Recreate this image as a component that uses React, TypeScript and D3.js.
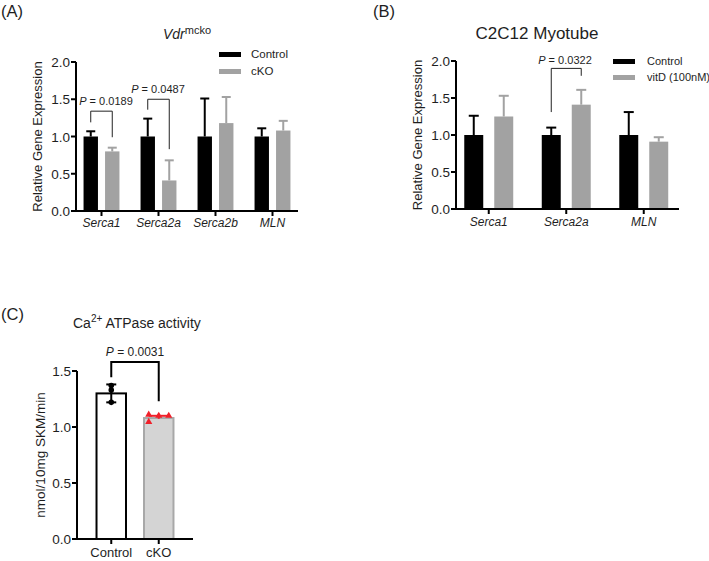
import React from "react";
import * as d3 from "d3";

// Panel A data
const aCategories = ["Serca1", "Serca2a", "Serca2b", "MLN"];
const aSeries = ["Control", "cKO"];
const aControlMean = [1.0, 1.0, 1.0, 1.0];
const aControlErr = [0.07, 0.24, 0.51, 0.11];
const aCkoMean = [0.8, 0.41, 1.18, 1.08];
const aCkoErr = [0.05, 0.27, 0.35, 0.13];
const aTicks = [0, 0.5, 1.0, 1.5, 2.0];

// Panel B data
const bCategories = ["Serca1", "Serca2a", "MLN"];
const bSeries = ["Control", "vitD (100nM)"];
const bControlMean = [1.0, 1.0, 1.0];
const bControlErr = [0.26, 0.1, 0.31];
const bVitdMean = [1.25, 1.41, 0.91];
const bVitdErr = [0.28, 0.2, 0.06];
const bTicks = [0, 0.5, 1.0, 1.5, 2.0];

// Panel C data
const cCategories = ["Control", "cKO"];
const cMeans = [1.3, 1.08];
const cErr = [0.08, 0.02];
const cControlPoints = [1.37, 1.33, 1.22];
const cCkoPoints = [1.11, 1.045, 1.1, 1.1];
const cCkoOffsets = [-10, -10, 0, 10];
const cTicks = [0, 0.5, 1.0, 1.5];

const FONT = "Liberation Sans, Arial, Helvetica, sans-serif";
const GRAY = "#a2a2a2";
const TXT = "#1e1e1e";

function Bracket({ x1, x2, yTop, yL, yR }: any) {
  return (
    <path
      d={`M${x1},${yL}V${yTop}H${x2}V${yR}`}
      fill="none"
      stroke="#222"
      strokeWidth={1}
    />
  );
}

function PText({ x, y, value, size = 11 }: any) {
  return (
    <text x={x} y={y} textAnchor="middle" fontSize={size} fill={TXT}>
      <tspan fontStyle="italic">P</tspan>
      <tspan> = {value}</tspan>
    </text>
  );
}

function YAxis({ y, ticks, x, top, bottom, fmt }: any) {
  return (
    <g>
      <line x1={x} x2={x} y1={top} y2={bottom} stroke="#000" strokeWidth={2} />
      {ticks.map((t: number) => (
        <g key={t}>
          <line x1={x - 5} x2={x} y1={y(t)} y2={y(t)} stroke="#000" strokeWidth={2} />
          <text x={x - 6} y={y(t) + 5} textAnchor="end" fontSize={13.5} fill={TXT}>
            {fmt(t)}
          </text>
        </g>
      ))}
    </g>
  );
}

function PanelA() {
  const x0 = d3.scaleBand().domain(aCategories).range([73, 301]).paddingInner(0.37).paddingOuter(0.185);
  const x1 = d3.scaleBand().domain(aSeries).range([0, x0.bandwidth()]).paddingInner(0.33);
  const y = d3.scaleLinear().domain([0, 2]).range([211, 62]);
  const fmt = d3.format(".1f");
  const series = [
    { key: aSeries[0], mean: aControlMean, err: aControlErr, color: "#000" },
    { key: aSeries[1], mean: aCkoMean, err: aCkoErr, color: GRAY },
  ];
  const cx = (c: string, s: string) => (x0(c) as number) + (x1(s) as number) + x1.bandwidth() / 2;
  return (
    <g>
      <text x={1} y={17} fontSize={16.5} fill={TXT}>(A)</text>
      <text x={163} y={39} fontSize={14} fill={TXT}>
        <tspan fontStyle="italic">Vdr</tspan>
        <tspan fontSize={11} dy={-5}>mcko</tspan>
      </text>
      {series.map((s) =>
        aCategories.map((c, i) => (
          <g key={s.key + c}>
            <line x1={cx(c, s.key)} x2={cx(c, s.key)} y1={y(s.mean[i])} y2={y(s.mean[i] + s.err[i])} stroke={s.color} strokeWidth={2} />
            <line x1={cx(c, s.key) - 4.5} x2={cx(c, s.key) + 4.5} y1={y(s.mean[i] + s.err[i])} y2={y(s.mean[i] + s.err[i])} stroke={s.color} strokeWidth={2} />
            <rect x={(x0(c) as number) + (x1(s.key) as number)} y={y(s.mean[i])} width={x1.bandwidth()} height={y(0) - y(s.mean[i])} fill={s.color} />
          </g>
        ))
      )}
      <YAxis y={y} ticks={aTicks} x={76} top={y(2)} bottom={y(0)} fmt={fmt} />
      <line x1={76} x2={298} y1={y(0)} y2={y(0)} stroke="#000" strokeWidth={2} />
      {aCategories.map((c) => {
        const xc = (x0(c) as number) + x0.bandwidth() / 2;
        return (
          <g key={c}>
            <line x1={xc} x2={xc} y1={y(0)} y2={y(0) + 5} stroke="#000" strokeWidth={2} />
            <text x={xc} y={227} textAnchor="middle" fontSize={12} fontStyle="italic" fill={TXT}>{c}</text>
          </g>
        );
      })}
      <text transform={`translate(42,${(y(0) + y(2)) / 2}) rotate(-90)`} textAnchor="middle" fontSize={13} fill={TXT}>
        Relative Gene Expression
      </text>
      {/* legend */}
      <rect x={219} y={52} width={22} height={5} fill="#000" />
      <rect x={219} y={69} width={22} height={5} fill={GRAY} />
      <text x={251} y={58} fontSize={11.5} fill={TXT}>{aSeries[0]}</text>
      <text x={251} y={75} fontSize={11.5} fill={TXT}>{aSeries[1]}</text>
      {/* brackets */}
      <Bracket x1={cx("Serca1", "Control")} x2={cx("Serca1", "cKO")} yTop={y(1.34)} yL={y(1.19)} yR={y(0.99)} />
      <PText x={106} y={105} value="0.0189" />
      <Bracket x1={cx("Serca2a", "Control")} x2={cx("Serca2a", "cKO")} yTop={y(1.5)} yL={y(1.36)} yR={y(0.83)} />
      <PText x={158} y={93} value="0.0487" />
    </g>
  );
}

function PanelB() {
  const x0 = d3.scaleBand().domain(bCategories).range([450, 682.5]).paddingInner(0.368).paddingOuter(0.184);
  const x1 = d3.scaleBand().domain(bSeries).range([0, x0.bandwidth()]).paddingInner(0.367);
  const y = d3.scaleLinear().domain([0, 2]).range([209, 61]);
  const fmt = d3.format(".1f");
  const series = [
    { key: bSeries[0], mean: bControlMean, err: bControlErr, color: "#000" },
    { key: bSeries[1], mean: bVitdMean, err: bVitdErr, color: GRAY },
  ];
  const cx = (c: string, s: string) => (x0(c) as number) + (x1(s) as number) + x1.bandwidth() / 2;
  return (
    <g>
      <text x={373} y={17} fontSize={16.5} fill={TXT}>(B)</text>
      <text x={537} y={39} textAnchor="middle" fontSize={17} fill={TXT}>C2C12 Myotube</text>
      {series.map((s) =>
        bCategories.map((c, i) => (
          <g key={s.key + c}>
            <line x1={cx(c, s.key)} x2={cx(c, s.key)} y1={y(s.mean[i])} y2={y(s.mean[i] + s.err[i])} stroke={s.color} strokeWidth={2} />
            <line x1={cx(c, s.key) - 5} x2={cx(c, s.key) + 5} y1={y(s.mean[i] + s.err[i])} y2={y(s.mean[i] + s.err[i])} stroke={s.color} strokeWidth={2} />
            <rect x={(x0(c) as number) + (x1(s.key) as number)} y={y(s.mean[i])} width={x1.bandwidth()} height={y(0) - y(s.mean[i])} fill={s.color} />
          </g>
        ))
      )}
      <YAxis y={y} ticks={bTicks} x={456} top={y(2)} bottom={y(0)} fmt={fmt} />
      <line x1={456} x2={679} y1={y(0)} y2={y(0)} stroke="#000" strokeWidth={2} />
      {bCategories.map((c) => {
        const xc = (x0(c) as number) + x0.bandwidth() / 2;
        return (
          <g key={c}>
            <line x1={xc} x2={xc} y1={y(0)} y2={y(0) + 5} stroke="#000" strokeWidth={2} />
            <text x={xc} y={226} textAnchor="middle" fontSize={12} fontStyle="italic" fill={TXT}>{c}</text>
          </g>
        );
      })}
      <text transform={`translate(422,${(y(0) + y(2)) / 2}) rotate(-90)`} textAnchor="middle" fontSize={13} fill={TXT}>
        Relative Gene Expression
      </text>
      <rect x={613} y={59} width={22} height={5} fill="#000" />
      <rect x={613} y={75} width={22} height={5} fill={GRAY} />
      <text x={647} y={65} fontSize={11} fill={TXT}>{bSeries[0]}</text>
      <text x={647} y={81} fontSize={11} fill={TXT}>{bSeries[1]}</text>
      <Bracket x1={cx("Serca2a", bSeries[0])} x2={cx("Serca2a", bSeries[1])} yTop={y(1.9)} yL={y(1.31)} yR={y(1.8)} />
      <PText x={565} y={64} value="0.0322" />
    </g>
  );
}

function PanelC() {
  const x = d3.scaleBand().domain(cCategories).range([77, 193]).paddingInner(0.337).paddingOuter(0.39);
  const y = d3.scaleLinear().domain([0, 1.5]).range([539, 371]);
  const fmt = d3.format(".1f");
  const xc = (c: string) => (x(c) as number) + x.bandwidth() / 2;
  const tri = d3.symbol().type(d3.symbolTriangle).size(22)();
  return (
    <g>
      <text x={1} y={320} fontSize={16.5} fill={TXT}>(C)</text>
      <text x={73} y={328} fontSize={14} fill={TXT}>
        Ca<tspan fontSize={10} dy={-6}>2+</tspan>
        <tspan dy={6}> ATPase activity</tspan>
      </text>
      <rect x={(x("Control") as number) + 1} y={y(cMeans[0])} width={x.bandwidth() - 2} height={y(0) - y(cMeans[0])} fill="#fff" stroke="#000" strokeWidth={2} />
      <rect x={(x("cKO") as number) + 1} y={y(cMeans[1])} width={x.bandwidth() - 2} height={y(0) - y(cMeans[1])} fill="#d4d4d4" stroke="#a8a8a8" strokeWidth={2} />
      <g>
        <line x1={xc("Control")} x2={xc("Control")} y1={y(cMeans[0] - cErr[0])} y2={y(cMeans[0] + cErr[0])} stroke="#000" strokeWidth={2} />
        <line x1={xc("Control") - 5} x2={xc("Control") + 5} y1={y(cMeans[0] + cErr[0])} y2={y(cMeans[0] + cErr[0])} stroke="#000" strokeWidth={2} />
        <line x1={xc("Control") - 5} x2={xc("Control") + 5} y1={y(cMeans[0] - cErr[0])} y2={y(cMeans[0] - cErr[0])} stroke="#000" strokeWidth={2} />
        {cControlPoints.map((v, i) => (
          <circle key={i} cx={xc("Control")} cy={y(v)} r={2.8} fill="#000" />
        ))}
      </g>
      <g>
        {cCkoPoints.map((v, i) => (
          <path key={i} d={tri as string} transform={`translate(${xc("cKO") + cCkoOffsets[i]},${y(v)})`} fill="#f0202a" />
        ))}
        <line x1={xc("cKO") - 10} x2={xc("cKO") + 10} y1={y(cMeans[1] + cErr[1])} y2={y(cMeans[1] + cErr[1])} stroke="#f0202a" strokeWidth={2} />
        <line x1={xc("cKO")} x2={xc("cKO")} y1={y(cMeans[1] + cErr[1]) - 2} y2={y(cMeans[1] + cErr[1]) + 3} stroke="#f0202a" strokeWidth={2} />
      </g>
      <YAxis y={y} ticks={cTicks} x={77} top={y(1.5)} bottom={y(0)} fmt={fmt} />
      <line x1={77} x2={193} y1={y(0)} y2={y(0)} stroke="#000" strokeWidth={2} />
      {cCategories.map((c) => (
        <g key={c}>
          <line x1={xc(c)} x2={xc(c)} y1={y(0)} y2={y(0) + 5} stroke="#000" strokeWidth={2} />
          <text x={xc(c)} y={557} textAnchor="middle" fontSize={13} fill={TXT}>{c}</text>
        </g>
      ))}
      <text transform={`translate(45,${(y(0) + y(1.5)) / 2}) rotate(-90)`} textAnchor="middle" fontSize={13.5} fill={TXT}>
        nmol/10mg SKM/min
      </text>
      <path d={`M${xc("Control")},${y(1.445)}V${y(1.58)}H${xc("cKO")}V${y(1.23)}`} fill="none" stroke="#000" strokeWidth={2} />
      <PText x={135} y={356} value="0.0031" size={12} />
    </g>
  );
}

export default function App() {
  return (
    <svg width={709} height={561} style={{ position: "absolute", left: 0, top: 0, background: "#fff" }} fontFamily={FONT}>
      <rect width={709} height={561} fill="#fff" />
      <PanelA />
      <PanelB />
      <PanelC />
    </svg>
  );
}
